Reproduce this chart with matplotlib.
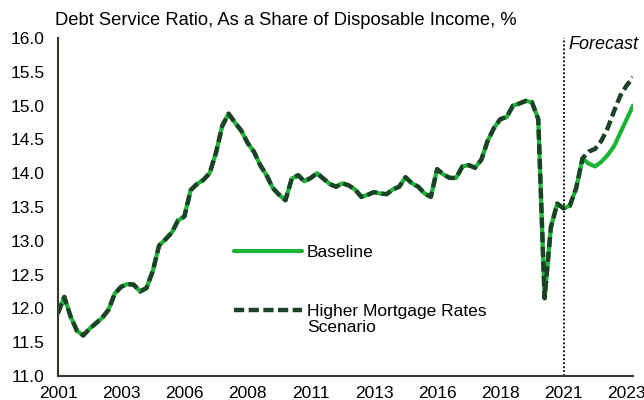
import matplotlib
matplotlib.use("Agg")
import matplotlib.pyplot as plt
import pandas as pd

plt.rcParams['font.family'] = ['Liberation Sans', 'DejaVu Sans']

# quarterly, 2001Q1 .. 2023Q4
quarters = pd.period_range('2001Q1', '2023Q4', freq='Q')
tick_labels = ['2001', '2003', '2006', '2008', '2011', '2013', '2016', '2018', '2021', '2023']

history = [11.93, 12.17, 11.88, 11.67, 11.60, 11.70, 11.78, 11.86, 11.98, 12.22,
           12.32, 12.36, 12.35, 12.25, 12.30, 12.55, 12.93, 13.02, 13.12, 13.30,
           13.36, 13.75, 13.84, 13.90, 14.00, 14.30, 14.70, 14.88, 14.75, 14.63,
           14.45, 14.32, 14.12, 13.97, 13.78, 13.68, 13.60, 13.92, 13.97, 13.88,
           13.93, 14.00, 13.92, 13.84, 13.80, 13.85, 13.82, 13.76, 13.65, 13.68,
           13.72, 13.70, 13.69, 13.76, 13.80, 13.94, 13.85, 13.80, 13.70, 13.65,
           14.06, 13.98, 13.93, 13.93, 14.10, 14.12, 14.08, 14.20, 14.48, 14.67,
           14.80, 14.83, 15.00, 15.03, 15.07, 15.05, 14.80, 12.15, 13.20, 13.55,
           13.48, 13.52, 13.78, 14.22]
baseline_fc = [14.14, 14.10, 14.17, 14.27, 14.40, 14.60, 14.80, 15.00]
higher_fc = [14.32, 14.36, 14.48, 14.67, 14.92, 15.15, 15.30, 15.42]

baseline = history + baseline_fc
higher = history + higher_fc
x = list(range(len(quarters)))
forecast_start = list(quarters).index(pd.Period('2021Q1', freq='Q'))

fs = 12.5

fig = plt.figure(figsize=(6.44, 4.0), dpi=100)
ax = fig.add_axes([0.09, 0.06, 0.893, 0.845])

l1, = ax.plot(x, baseline, color='#1DB336', lw=3.0, solid_capstyle='round')
l2, = ax.plot(x, higher, color='#1B4226', lw=3.2, dashes=(2.3, 1.0))

ax.axvline(forecast_start, color='black', lw=1.3, ls=(0, (1, 1.2)))
ax.text(forecast_start + 0.8, 15.9, 'Forecast', fontsize=13, style='italic',
        va='center', ha='left')

ax.set_xlim(0, len(quarters) - 1)
ax.set_ylim(11, 16)
ax.set_yticks([11 + 0.5 * i for i in range(11)])
ax.set_yticklabels(['%.1f' % (11 + 0.5 * i) for i in range(11)])
ax.set_xticks(x[::10])
ax.set_xticklabels(tick_labels)
ax.tick_params(length=0, labelsize=fs)
ax.tick_params(axis='y', pad=9.5)
ax.tick_params(axis='x', pad=7)

for s in ['top', 'right']:
    ax.spines[s].set_visible(False)
for s in ['left', 'bottom']:
    ax.spines[s].set_color('#333a2c')
    ax.spines[s].set_linewidth(1.5)

leg1 = ax.legend([l1], ['Baseline'], loc='center left', bbox_to_anchor=(0.306, 0.365),
                 frameon=False, fontsize=fs, handlelength=3.9, handletextpad=0.3,
                 borderpad=0, borderaxespad=0)
ax.add_artist(leg1)
# taller handle box so the dashed sample sits level with the first text line
leg2 = ax.legend([l2], ['Higher Mortgage Rates\nScenario'], loc='center left',
                 bbox_to_anchor=(0.306, 0.163), frameon=False, fontsize=fs,
                 handlelength=3.9, handletextpad=0.3, handleheight=4.4,
                 borderpad=0, borderaxespad=0)
leg2.get_texts()[0].set_linespacing(1.1)

fig.text(0.085, 0.948, 'Debt Service Ratio, As a Share of Disposable Income, %',
         fontsize=13.2, va='center', ha='left')

fig.savefig('out.png', dpi=100)
